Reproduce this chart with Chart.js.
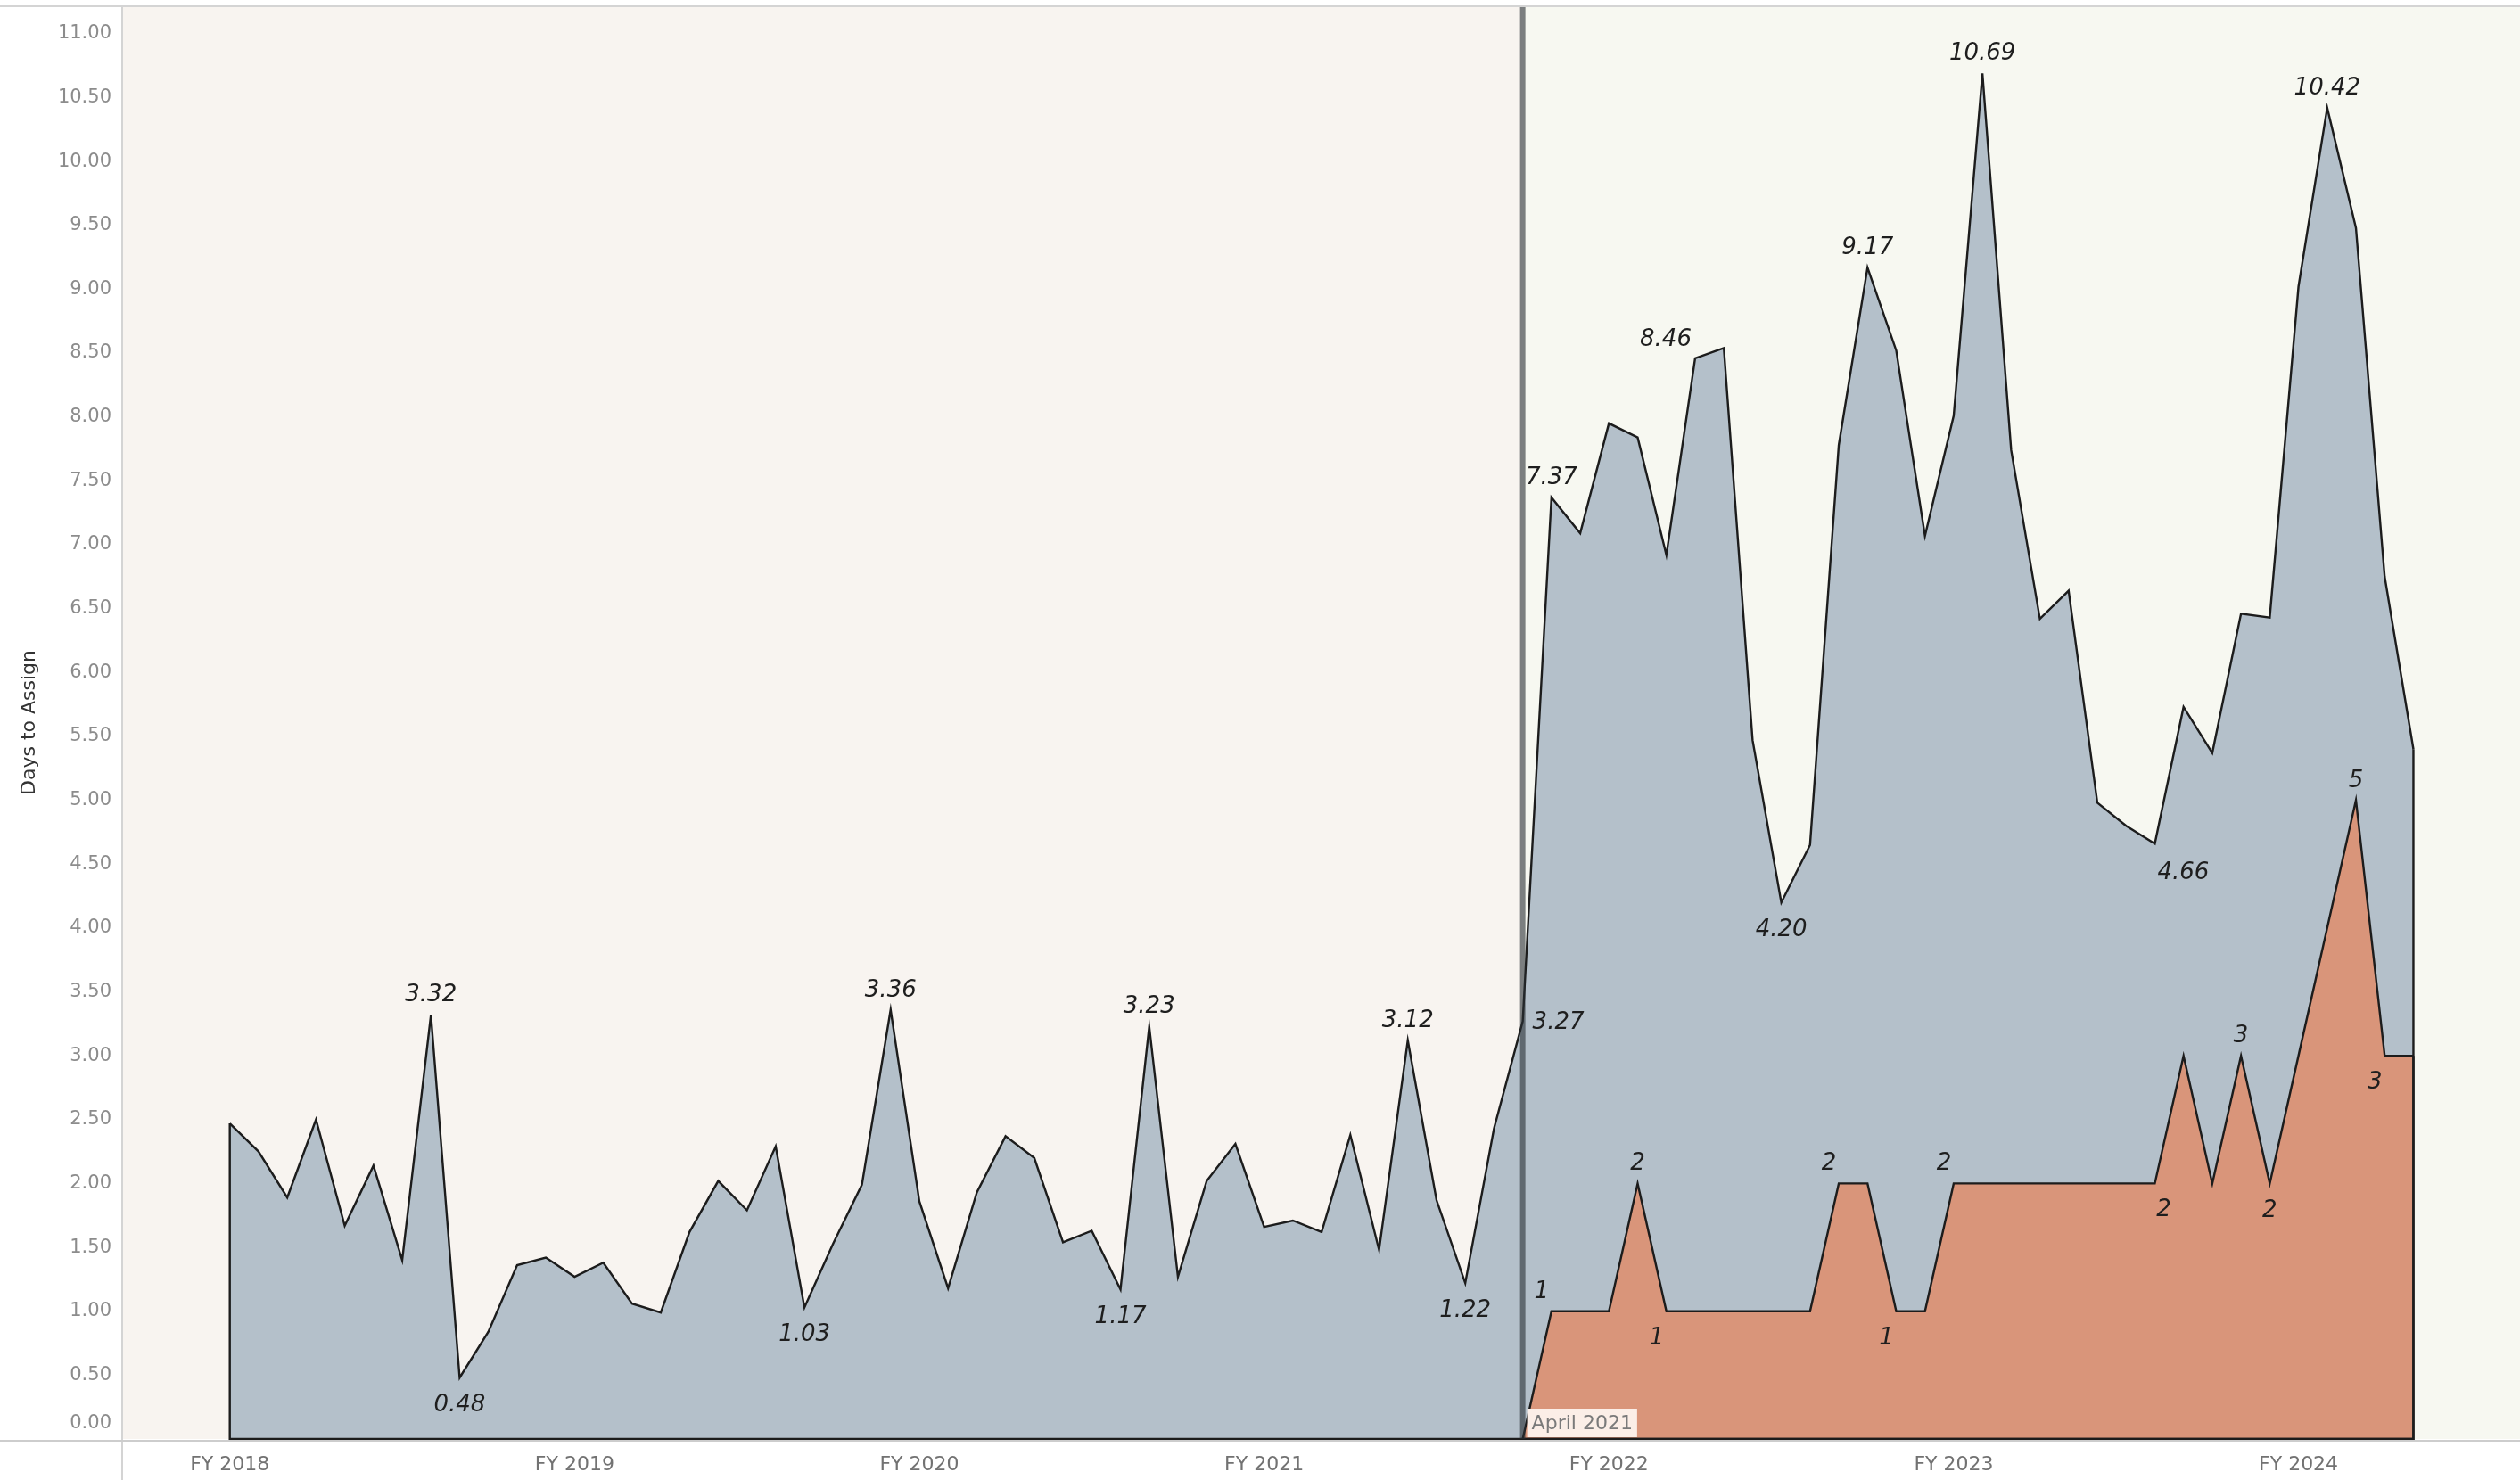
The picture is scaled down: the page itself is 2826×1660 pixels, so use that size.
<!DOCTYPE html>
<html>
<head>
<meta charset="utf-8">
<script src="https://cdn.jsdelivr.net/npm/chart.js@4.4.1/dist/chart.umd.min.js"></script>
<style>
  html, body { margin: 0; padding: 0; background: #ffffff; }
  #wrap { width: 2826px; height: 1660px; }
</style>
</head>
<body>
<div id="wrap"><canvas id="c" width="2826" height="1660"></canvas></div>
<script>
// ---- data ----
const months = [
  'Jul 2017','Aug 2017','Sep 2017','Oct 2017','Nov 2017','Dec 2017',
  'Jan 2018','Feb 2018','Mar 2018','Apr 2018','May 2018','Jun 2018','Jul 2018','Aug 2018','Sep 2018','Oct 2018','Nov 2018','Dec 2018',
  'Jan 2019','Feb 2019','Mar 2019','Apr 2019','May 2019','Jun 2019','Jul 2019','Aug 2019','Sep 2019','Oct 2019','Nov 2019','Dec 2019',
  'Jan 2020','Feb 2020','Mar 2020','Apr 2020','May 2020','Jun 2020','Jul 2020','Aug 2020','Sep 2020','Oct 2020','Nov 2020','Dec 2020',
  'Jan 2021','Feb 2021','Mar 2021','Apr 2021','May 2021','Jun 2021','Jul 2021','Aug 2021','Sep 2021','Oct 2021','Nov 2021','Dec 2021',
  'Jan 2022','Feb 2022','Mar 2022','Apr 2022','May 2022','Jun 2022','Jul 2022','Aug 2022','Sep 2022','Oct 2022','Nov 2022','Dec 2022',
  'Jan 2023','Feb 2023','Mar 2023','Apr 2023','May 2023','Jun 2023','Jul 2023','Aug 2023','Sep 2023','Oct 2023','Nov 2023'
];

const daysToAssign = [
  2.47, 2.25, 1.89, 2.50, 1.67, 2.14, 1.40, 3.32, 0.48, 0.84, 1.36, 1.42,
  1.27, 1.38, 1.06, 0.99, 1.62, 2.02, 1.79, 2.29, 1.03, 1.53, 1.99, 3.36,
  1.86, 1.18, 1.93, 2.37, 2.20, 1.54, 1.63, 1.17, 3.23, 1.27, 2.02, 2.31,
  1.66, 1.71, 1.62, 2.38, 1.48, 3.12, 1.87, 1.22, 2.43, 3.27, 7.37, 7.09,
  7.95, 7.84, 6.92, 8.46, 8.54, 5.47, 4.20, 4.65, 7.78, 9.17, 8.52, 7.07,
  8.01, 10.69, 7.74, 6.42, 6.64, 4.98, 4.80, 4.66, 5.73, 5.37, 6.46, 6.43,
  9.02, 10.42, 9.48, 6.75, 5.40
];

// second measure starts at the reference month (April 2021)
const secondStartMonth = 'Apr 2021';
const secondMeasure = [
  0, 1, 1, 1, 2, 1, 1, 1, 1, 1, 1, 2, 2, 1, 1, 2,
  2, 2, 2, 2, 2, 2, 2, 3, 2, 3, 2, 3, 4, 5, 3, 3
];

const refMonth = 'Apr 2021';
const refLabel = 'April 2021';

const fyTickMonths = ['Jul 2017','Jul 2018','Jul 2019','Jul 2020','Jul 2021','Jul 2022','Jul 2023'];
const fyTickLabels = ['FY 2018','FY 2019','FY 2020','FY 2021','FY 2022','FY 2023','FY 2024'];

const yTickValues = [0,0.5,1,1.5,2,2.5,3,3.5,4,4.5,5,5.5,6,6.5,7,7.5,8,8.5,9,9.5,10,10.5,11];
const yTitle = 'Days to Assign';

// labelled points (month names)
const blueLabelMonths = ['Feb 2018','Mar 2018','Mar 2019','Jun 2019','Feb 2020','Mar 2020','Dec 2020','Feb 2021',
  'Apr 2021','May 2021','Oct 2021','Jan 2022','Apr 2022','Aug 2022','Feb 2023','Aug 2023'];
const orangeLabelMonths = ['May 2021','Aug 2021','Sep 2021','Mar 2022','May 2022','Jul 2022',
  'Feb 2023','May 2023','Jun 2023','Sep 2023','Oct 2023'];

// ---- styling (placement of labels) ----
const bluePlace = ['up','down','down','up','down','up','up','down','right','up','upleft','down','up','up','downright','up'];
const orangePlace = ['upL','up','downL','upL','downL','upL','downR','up','down','up','downL'];
const placements = {
  up:        { align: 'center', dx: 0,   dy: -15 },
  down:      { align: 'center', dx: 0,   dy: 38 },
  right:     { align: 'left',   dx: 11,  dy: 9 },
  upleft:    { align: 'right',  dx: -4,  dy: -14 },
  downright: { align: 'left',   dx: 3,   dy: 40 },
  upL:       { align: 'center', dx: -11, dy: -15 },
  downL:     { align: 'center', dx: -11, dy: 37 },
  downR:     { align: 'center', dx: 10,  dy: 37 }
};

// ---- build datasets from the arrays ----
const blueData = daysToAssign.map((v, i) => ({ x: i, y: v }));
const startIdx = months.indexOf(secondStartMonth);
const orangeData = secondMeasure.map((v, i) => ({ x: startIdx + i, y: v }));
const refIdx = months.indexOf(refMonth);

const FONT = '"DejaVu Sans", Verdana, sans-serif';
const LINE_W = 2.4;

const decor = {
  id: 'decor',
  beforeDraw(chart) {
    const { ctx, chartArea: a, scales: { x } } = chart;
    ctx.save();
    ctx.fillStyle = '#ffffff';
    ctx.fillRect(0, 0, chart.width, chart.height);
    const rx = x.getPixelForValue(refIdx);
    ctx.fillStyle = '#f8f4f0';
    ctx.fillRect(a.left, a.top, rx - a.left, a.bottom - a.top);
    ctx.fillStyle = '#f7f8f1';
    ctx.fillRect(rx, a.top, a.right - rx, a.bottom - a.top);
    ctx.restore();
  },
  afterDatasetsDraw(chart) {
    const { ctx, chartArea: a, scales: { x, y } } = chart;
    const base = y.getPixelForValue(0);
    ctx.save();

    // closing edges of both areas (vertical ends + baseline)
    ctx.strokeStyle = '#1c1c1c';
    ctx.lineWidth = LINE_W;
    chart.data.datasets.forEach((ds, di) => {
      const pts = chart.getDatasetMeta(di).data;
      const f = pts[0], l = pts[pts.length - 1];
      ctx.beginPath();
      ctx.moveTo(f.x, f.y);
      ctx.lineTo(f.x, base);
      ctx.lineTo(l.x, base);
      ctx.lineTo(l.x, l.y);
      ctx.stroke();
    });

    // reference line
    const rx = x.getPixelForValue(refIdx);
    ctx.fillStyle = 'rgba(40,46,52,0.6)';
    ctx.fillRect(rx - 3, a.top, 6, a.bottom - a.top);

    // reference label
    ctx.font = '22px ' + FONT;
    const tw = ctx.measureText(refLabel).width;
    ctx.fillStyle = '#fbeee7';
    ctx.fillRect(rx + 5, base - 34, tw + 10, 32);
    ctx.fillStyle = '#7a7a7a';
    ctx.textAlign = 'left';
    ctx.textBaseline = 'middle';
    ctx.fillText(refLabel, rx + 10, base - 17);

    // data labels
    ctx.font = 'italic 26px ' + FONT;
    ctx.fillStyle = '#1e1e1e';
    ctx.textBaseline = 'alphabetic';
    const drawLabels = (di, monthsList, places, fmt) => {
      const meta = chart.getDatasetMeta(di);
      const ds = chart.data.datasets[di].data;
      monthsList.forEach((m, k) => {
        const mi = months.indexOf(m);
        const j = ds.findIndex(p => p.x === mi);
        if (j < 0) return;
        const el = meta.data[j];
        const p = placements[places[k]];
        ctx.textAlign = p.align;
        ctx.fillText(fmt(ds[j].y), el.x + p.dx, el.y + p.dy);
      });
    };
    drawLabels(1, blueLabelMonths, bluePlace, v => v.toFixed(2));
    drawLabels(0, orangeLabelMonths, orangePlace, v => String(v));

    // frame lines
    ctx.fillStyle = '#d4d4d4';
    ctx.fillRect(0, 6, chart.width, 2);
    ctx.fillRect(a.left - 1, 6, 2, chart.height - 6);
    ctx.fillStyle = '#cdcdcd';
    ctx.fillRect(0, a.bottom + 1, chart.width, 2);

    // y tick labels
    ctx.font = '21px ' + FONT;
    ctx.fillStyle = '#8c8c8c';
    ctx.textAlign = 'right';
    ctx.textBaseline = 'middle';
    yTickValues.forEach(v => {
      let py = y.getPixelForValue(v);
      py = Math.min(py, a.bottom - 17);
      ctx.fillText(v.toFixed(2), 125, py);
    });

    // x tick labels
    ctx.font = '22px ' + FONT;
    ctx.fillStyle = '#727272';
    ctx.textAlign = 'center';
    fyTickMonths.forEach((m, k) => {
      const px = x.getPixelForValue(months.indexOf(m));
      ctx.fillText(fyTickLabels[k], px, 1643);
    });

    // y title
    ctx.save();
    ctx.translate(33, (a.top + a.bottom) / 2);
    ctx.rotate(-Math.PI / 2);
    ctx.font = '22px ' + FONT;
    ctx.fillStyle = '#333333';
    ctx.textAlign = 'center';
    ctx.textBaseline = 'middle';
    ctx.fillText(yTitle, 0, 0);
    ctx.restore();

    ctx.restore();
  }
};

new Chart(document.getElementById('c'), {
  type: 'line',
  data: {
    datasets: [
      {
        label: 'Count',
        data: orangeData,
        order: 0,
        fill: 'origin',
        backgroundColor: '#d9957a',
        borderColor: '#1c1c1c',
        borderWidth: LINE_W,
        pointRadius: 0,
        tension: 0
      },
      {
        label: yTitle,
        data: blueData,
        order: 1,
        fill: 'origin',
        backgroundColor: '#b4c0ca',
        borderColor: '#1c1c1c',
        borderWidth: LINE_W,
        pointRadius: 0,
        tension: 0
      }
    ]
  },
  options: {
    responsive: false,
    devicePixelRatio: 1,
    animation: false,
    layout: { padding: { left: 137, top: 7, right: 0, bottom: 46 } },
    plugins: { legend: { display: false }, tooltip: { enabled: false } },
    scales: {
      x: { type: 'linear', min: -3.746, max: 79.71, display: false },
      y: { type: 'linear', min: 0, max: 11.215, display: false }
    }
  },
  plugins: [decor]
});
</script>
</body>
</html>
